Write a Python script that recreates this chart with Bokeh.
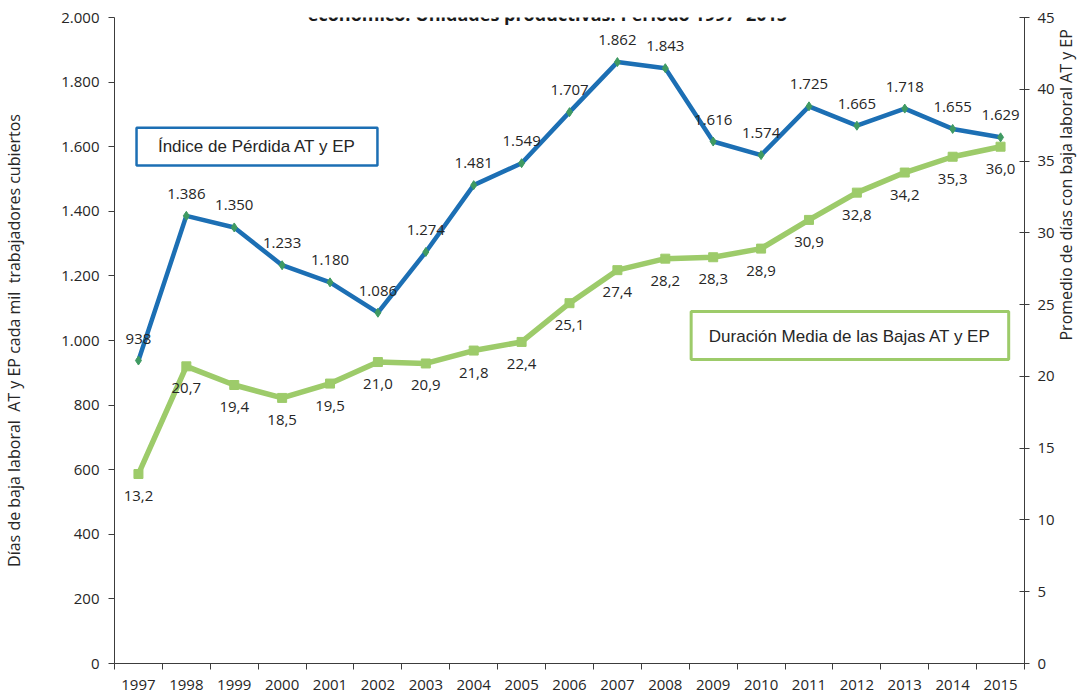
import numpy as np
from bokeh.plotting import figure
from bokeh.models import (Range1d, LinearAxis, FixedTicker, CustomJSTickFormatter,
                          ColumnDataSource, BoxAnnotation, Label)
from bokeh.core.properties import value
from bokeh.embed import file_html
from bokeh.resources import INLINE

# ---------------- data ----------------
years = ["1997", "1998", "1999", "2000", "2001", "2002", "2003", "2004", "2005", "2006",
         "2007", "2008", "2009", "2010", "2011", "2012", "2013", "2014", "2015"]
indice_perdida = [938, 1386, 1350, 1233, 1180, 1086, 1274, 1481, 1549, 1707,
                  1862, 1843, 1616, 1574, 1725, 1665, 1718, 1655, 1629]
duracion_media = [13.2, 20.7, 19.4, 18.5, 19.5, 21.0, 20.9, 21.8, 22.4, 25.1,
                  27.4, 28.2, 28.3, 28.9, 30.9, 32.8, 34.2, 35.3, 36.0]
left_ticks = list(range(0, 2001, 200))
right_ticks = list(range(0, 46, 5))

title_text = "económico. Unidades productivas. Período 1997- 2015"
left_title = "Días de baja laboral\u00a0 AT y EP cada mil\u00a0 trabajadores cubiertos"
right_title = "Promedio de días con baja laboral AT y EP"
box1_text = "Índice de Pérdida AT y EP"
box2_text = "Duración Media de las Bajas AT y EP"

# ---------------- styles ----------------
BLUE = "#1c6fb4"
BLUE_MARK = "#3f9a62"
GREEN = "#9dcb6a"
AXIS = "#3c3c3c"
TXT = "#262626"
NUM_FONT = "Open Sans"

n = len(years)
xpos = np.arange(n) + 0.5

src = ColumnDataSource(dict(
    x=xpos,
    ind=indice_perdida,
    dur=duracion_media,
    ind_lbl=[f"{v:,}".replace(",", ".") for v in indice_perdida],
    dur_lbl=[f"{v:.1f}".replace(".", ",") for v in duracion_media],
))

p = figure(width=1091, height=697, output_backend="svg", toolbar_location=None,
           x_range=Range1d(0, n), y_range=Range1d(0, 2000),
           min_border_left=110, min_border_right=67, min_border_top=17, min_border_bottom=34,
           x_axis_type=None, y_axis_type=None)
p.outline_line_color = None
p.xgrid.visible = False
p.ygrid.visible = False
p.background_fill_color = "white"
p.border_fill_color = "white"
p.extra_y_ranges = {"right": Range1d(0, 45)}

# x axis: labels at category centres, tick marks at category boundaries
xaxis = LinearAxis(ticker=FixedTicker(ticks=list(xpos), minor_ticks=list(range(n + 1))),
                   major_label_overrides={float(x): y for x, y in zip(xpos, years)})
xaxis.major_tick_in = 0
xaxis.major_tick_out = 0
xaxis.minor_tick_in = 0
xaxis.minor_tick_out = 6
xaxis.minor_tick_line_color = AXIS
xaxis.axis_line_color = AXIS
xaxis.major_label_standoff = 10
xaxis.major_label_text_font = NUM_FONT
xaxis.major_label_text_font_size = "15px"
xaxis.major_label_text_color = TXT
p.add_layout(xaxis, "below")

fmt = CustomJSTickFormatter(code="""
if (tick >= 1000) {
  const t = Math.floor(tick / 1000);
  const r = String(Math.round(tick % 1000)).padStart(3, '0');
  return t + '.' + r;
}
return String(tick);
""")
yleft = LinearAxis(ticker=FixedTicker(ticks=left_ticks), formatter=fmt, axis_label=left_title)
yleft.major_tick_in = 0
yleft.major_tick_out = 6
yleft.minor_tick_line_color = None
yleft.axis_line_color = AXIS
yleft.major_tick_line_color = AXIS
yleft.major_label_standoff = 9
yleft.major_label_text_font = NUM_FONT
yleft.major_label_text_font_size = "15px"
yleft.major_label_text_color = TXT
yleft.axis_label_text_font = NUM_FONT
yleft.axis_label_text_font_size = "16px"
yleft.axis_label_text_font_style = "normal"
yleft.axis_label_text_color = TXT
yleft.axis_label_standoff = 33
p.add_layout(yleft, "left")

# right axis: ticks and numbers
yright = LinearAxis(y_range_name="right", ticker=FixedTicker(ticks=right_ticks))
yright.major_tick_in = 5
yright.major_tick_out = 5
yright.minor_tick_line_color = None
yright.axis_line_color = AXIS
yright.major_tick_line_color = AXIS
yright.major_label_standoff = 8
yright.major_label_text_font = NUM_FONT
yright.major_label_text_font_size = "15px"
yright.major_label_text_color = TXT
p.add_layout(yright, "right")

# second, invisible right axis that only carries the title, rotated to read
# bottom-to-top; its bounds place the start of the text near the lower third
yright_title = LinearAxis(y_range_name="right", ticker=FixedTicker(ticks=[]),
                          axis_label=right_title, bounds=(0, 24.1))
yright_title.axis_line_color = None
yright_title.major_tick_line_color = None
yright_title.minor_tick_line_color = None
yright_title.major_tick_in = 0
yright_title.major_tick_out = 0
yright_title.major_label_standoff = 0
yright_title.axis_label_standoff = 8
yright_title.axis_label_text_font = NUM_FONT
yright_title.axis_label_text_font_size = "16px"
yright_title.axis_label_text_font_style = "normal"
yright_title.axis_label_text_color = TXT
if "axis_label_orientation" in yright_title.properties():
    yright_title.axis_label_orientation = float(np.pi / 2)
p.add_layout(yright_title, "right")

# ---------------- series ----------------
p.line("x", "dur", source=src, y_range_name="right", line_color=GREEN, line_width=5.5)
p.scatter("x", "dur", source=src, y_range_name="right", marker="square", size=9,
          fill_color=GREEN, line_color=GREEN)
p.line("x", "ind", source=src, line_color=BLUE, line_width=4.5)
p.scatter("x", "ind", source=src, marker="diamond", size=9,
          fill_color=BLUE_MARK, line_color=BLUE_MARK)

p.text("x", "ind", text="ind_lbl", source=src, text_align="center", text_baseline="middle",
       y_offset=-22, text_font=value(NUM_FONT), text_font_size="15px", text_color=TXT)
p.text("x", "dur", text="dur_lbl", source=src, y_range_name="right", text_align="center",
       text_baseline="middle", y_offset=22, text_font=value(NUM_FONT),
       text_font_size="15px", text_color=TXT)

# ---------------- legend boxes ----------------
p.add_layout(BoxAnnotation(left=0.46, right=5.49, bottom=1542, top=1659,
                           fill_color="white", fill_alpha=1.0,
                           line_color=BLUE, line_alpha=1.0, line_width=2.5))
p.add_layout(Label(x=2.975, y=1600, text=box1_text, text_align="center",
                   text_baseline="middle", text_font="Liberation Sans",
                   text_font_size="17px", text_color=TXT))
p.add_layout(BoxAnnotation(left=12.04, right=18.67, bottom=941, top=1090,
                           fill_color="white", fill_alpha=1.0,
                           line_color=GREEN, line_alpha=1.0, line_width=3))
p.add_layout(Label(x=15.355, y=1012, text=box2_text, text_align="center",
                   text_baseline="middle", text_font="Liberation Sans",
                   text_font_size="17px", text_color=TXT))

# ---------------- (cropped) title ----------------
p.add_layout(Label(x=9.04, y=2011, text=title_text, text_align="center",
                   text_baseline="alphabetic", text_font="Open Sans",
                   text_font_style="bold", text_font_size="18px", text_color="#1a1a1a"))

open("out.html", "w").write(file_html(p, INLINE))
